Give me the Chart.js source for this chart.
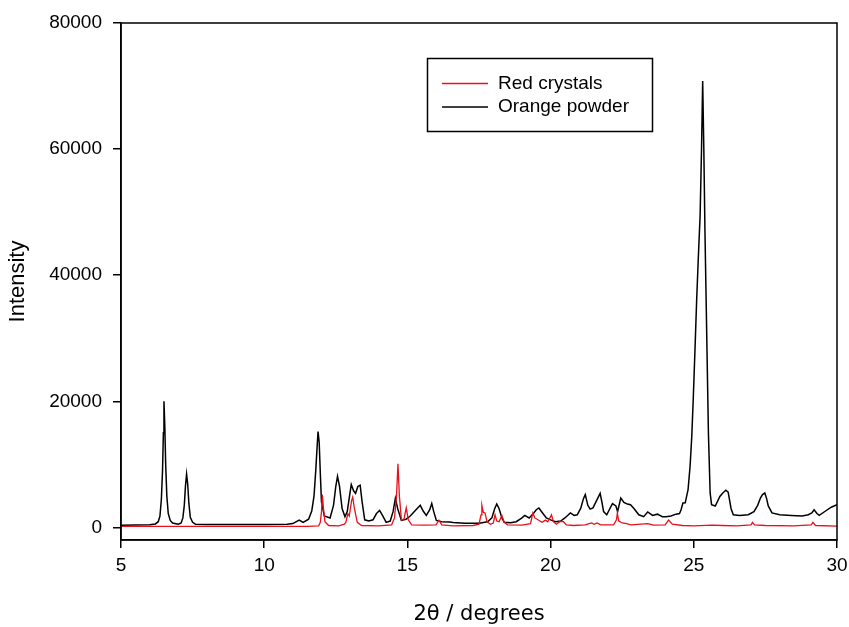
<!DOCTYPE html>
<html>
<head>
<meta charset="utf-8">
<title>XRD patterns</title>
<script src="https://cdn.jsdelivr.net/npm/chart.js@4.4.1/dist/chart.umd.min.js"></script>
<style>
    body { margin: 0; background: #fff; }
    #wrap { width: 849px; height: 627px; }
</style>
</head>
<body>
<div id="wrap"><canvas id="xrdChart" width="849" height="627"></canvas></div>
<script>
// Powder patterns (2theta in degrees, intensity in counts)
const redTheta = [5.0, 8.0, 11.5, 11.9, 11.96, 12.0, 12.03, 12.07, 12.12, 12.25, 12.6, 12.8, 12.85, 12.92, 12.97, 13.05, 13.09, 13.15, 13.25, 13.4,
    14.0, 14.45, 14.55, 14.62, 14.67, 14.72, 14.79, 14.88, 14.96, 15.03, 15.15, 15.6, 16.0, 16.1, 16.2, 16.6, 17.3, 17.5, 17.57, 17.6,
    17.65, 17.71, 17.78, 17.9, 18.0, 18.06, 18.12, 18.2, 18.3, 18.38, 18.5, 19.0, 19.3, 19.38, 19.45, 19.7, 19.82, 19.9, 20.0, 20.03,
    20.1, 20.2, 20.33, 20.45, 20.55, 20.8, 21.2, 21.43, 21.52, 21.62, 21.75, 22.2, 22.3, 22.33, 22.38, 22.5, 22.62, 22.8, 23.39, 23.6,
    24.0, 24.12, 24.25, 24.6, 25.0, 25.63, 26.0, 26.5, 27.0, 27.05, 27.12, 27.5, 28.5, 29.1, 29.16, 29.25, 30.0]
const redIntensity = [150, 150, 160, 250, 800, 2500, 5190, 3000, 900, 300, 250, 500, 800, 2200, 1800, 4200, 4800, 3000, 800, 300,
    250, 400, 1500, 5000, 10100, 5000, 1200, 1300, 3100, 1200, 400, 350, 400, 1150, 400, 250, 300, 500, 2000, 3500,
    2400, 2300, 900, 500, 700, 2000, 1000, 900, 1900, 800, 400, 350, 600, 2300, 1500, 800, 1150, 900, 1700, 2000,
    900, 500, 950, 900, 400, 300, 400, 700, 500, 700, 400, 400, 1200, 2280, 1000, 700, 650, 400, 600, 350,
    400, 1170, 500, 300, 250, 350, 300, 250, 400, 800, 400, 300, 250, 400, 800, 300, 200]

const orangeTheta = [5.0, 5.5, 6.0, 6.2, 6.3, 6.36, 6.41, 6.45, 6.48, 6.5, 6.53, 6.56, 6.6, 6.65, 6.72, 6.8, 7.0, 7.1, 7.16, 7.21,
    7.25, 7.29, 7.33, 7.37, 7.42, 7.5, 7.6, 8.0, 9.0, 10.0, 10.8, 11.0, 11.22, 11.36, 11.55, 11.66, 11.74, 11.8, 11.85, 11.88,
    11.92, 11.96, 12.0, 12.1, 12.3, 12.42, 12.5, 12.56, 12.63, 12.72, 12.82, 12.9, 12.98, 13.04, 13.12, 13.19, 13.27, 13.35, 13.42, 13.51,
    13.65, 13.8, 13.92, 14.03, 14.12, 14.26, 14.4, 14.5, 14.58, 14.66, 14.79, 14.95, 15.1, 15.3, 15.45, 15.55, 15.66, 15.78, 15.85, 15.92,
    16.01, 16.2, 16.47, 16.6, 17.0, 17.5, 17.8, 17.95, 18.05, 18.12, 18.2, 18.3, 18.38, 18.6, 18.8, 19.0, 19.1, 19.25, 19.4, 19.5,
    19.59, 19.7, 19.85, 20.0, 20.17, 20.35, 20.5, 20.69, 20.82, 20.93, 21.05, 21.15, 21.21, 21.3, 21.38, 21.48, 21.6, 21.73, 21.8, 21.85,
    21.96, 22.05, 22.16, 22.28, 22.34, 22.45, 22.56, 22.68, 22.79, 22.91, 23.08, 23.25, 23.39, 23.56, 23.73, 23.9, 24.03, 24.2, 24.38, 24.5,
    24.55, 24.62, 24.7, 24.8, 24.87, 24.93, 24.98, 25.04, 25.1, 25.16, 25.22, 25.27, 25.31, 25.35, 25.39, 25.45, 25.51, 25.57, 25.62, 25.75,
    25.91, 26.02, 26.12, 26.2, 26.3, 26.38, 26.6, 26.9, 27.1, 27.23, 27.33, 27.4, 27.48, 27.54, 27.6, 27.73, 28.0, 28.4, 28.78, 29.0,
    29.12, 29.2, 29.3, 29.38, 29.6, 29.8, 30.0]
const orangeIntensity = [350, 380, 420, 550, 900, 1800, 4500, 9000, 15000, 20000, 16000, 10000, 5000, 2200, 1100, 700, 500, 700, 1500, 3500,
    6500, 8450, 6800, 3800, 1600, 800, 500, 450, 450, 450, 480, 600, 1150, 800, 1300, 2600, 5000, 9000, 13000, 15200,
    13500, 8500, 4000, 1800, 1500, 3500, 6500, 8100, 6500, 3000, 1700, 2500, 5000, 6800, 5800, 5400, 6500, 6700, 4000, 1200,
    1000, 1200, 2200, 2700, 2000, 800, 1000, 2500, 4600, 3000, 1100, 1300, 1800, 2800, 3500, 2600, 1900, 2800, 3800, 2500,
    1100, 900, 850, 780, 650, 650, 900, 1500, 3000, 3700, 3000, 1500, 800, 750, 900, 1500, 1900, 1500, 2200, 2800,
    3080, 2400, 1500, 1200, 900, 1000, 1500, 2300, 1900, 2000, 3000, 4600, 5200, 3500, 2900, 3100, 4200, 5400, 3800, 2500,
    2000, 2800, 3760, 3400, 2500, 4660, 3970, 3700, 3600, 3000, 2000, 1700, 2440, 1900, 2100, 1700, 1700, 1800, 2100, 2200,
    2700, 3870, 3900, 6000, 9700, 14500, 20270, 28000, 36100, 43000, 49400, 60000, 70800, 60000, 46800, 30900, 15000, 5500, 3600, 3400,
    4900, 5500, 5900, 5600, 3000, 2000, 1900, 2000, 2500, 3500, 4700, 5200, 5450, 4600, 3400, 2300, 2000, 1900, 1800, 2000,
    2300, 2800, 2200, 1900, 2600, 3200, 3600]

const seriesNames = ["Red crystals", "Orange powder"]
const xTickValues = [5, 10, 15, 20, 25, 30]
const yTickValues = [0, 20000, 40000, 60000, 80000]

function toPoints(xs, ys) {
    return xs.map((x, i) => ({ x: x, y: ys[i] }))
}

// frame round the plot area plus the boxed legend inside it
const framePlugin = {
    id: "frame",
    afterDraw(chart) {
        const { ctx, chartArea } = chart
        ctx.save()
        ctx.strokeStyle = "#000"
        ctx.lineWidth = 1.5
        ctx.strokeRect(chartArea.left, chartArea.top, chartArea.right - chartArea.left, chartArea.bottom - chartArea.top)

        // legend
        const boxX = 427.5, boxY = 58.5, boxW = 225, boxH = 73
        ctx.fillStyle = "#fff"
        ctx.fillRect(boxX, boxY, boxW, boxH)
        ctx.strokeRect(boxX, boxY, boxW, boxH)
        ctx.font = "19px 'Liberation Sans', Arial, sans-serif"
        ctx.textBaseline = "middle"
        chart.data.datasets.forEach((ds, i) => {
            const y = 83.5 + i * 23.5
            ctx.strokeStyle = ds.borderColor
            ctx.lineWidth = ds.borderWidth
            ctx.beginPath()
            ctx.moveTo(442, y)
            ctx.lineTo(488, y)
            ctx.stroke()
            ctx.fillStyle = "#000"
            ctx.fillText(ds.label, 498, y)
        })
        ctx.restore()
    },
}

const tickFont = { family: "'Liberation Sans', Arial, sans-serif", size: 19 }

new Chart(document.getElementById("xrdChart").getContext("2d"), {
    type: "line",
    data: {
        datasets: [
            {
                label: seriesNames[0],
                data: toPoints(redTheta, redIntensity),
                borderColor: "#e8101a",
                borderWidth: 1.3,
                pointRadius: 0,
                tension: 0,
                fill: false,
            },
            {
                label: seriesNames[1],
                data: toPoints(orangeTheta, orangeIntensity),
                borderColor: "#000000",
                borderWidth: 1.5,
                pointRadius: 0,
                tension: 0,
                fill: false,
            },
        ],
    },
    options: {
        responsive: false,
        animation: false,
        layout: { padding: { left: 0, top: 23, right: 12, bottom: 0 } },
        plugins: {
            legend: { display: false },
            tooltip: { enabled: false },
        },
        scales: {
            x: {
                type: "linear",
                min: 5,
                max: 30,
                afterBuildTicks: (scale) => {
                    scale.ticks = xTickValues.map((v) => ({ value: v }))
                },
                afterFit: (scale) => {
                    scale.height = 87
                    scale.paddingLeft = 0
                    scale.paddingRight = 0
                },
                grid: { display: true, drawOnChartArea: false, drawTicks: true, tickLength: 8, color: "#000", lineWidth: 1.5 },
                border: { display: true, color: "#000", width: 1.5 },
                ticks: { color: "#000", font: tickFont, padding: 6, maxRotation: 0, callback: (v) => String(v) },
                title: {
                    display: true,
                    text: "2θ / degrees",
                    color: "#000",
                    font: { family: "'DejaVu Sans', Verdana, sans-serif", size: 21 },
                    padding: { top: 0, bottom: 0 },
                },
            },
            y: {
                type: "linear",
                min: -2000,
                max: 80000,
                afterBuildTicks: (scale) => {
                    scale.ticks = yTickValues.map((v) => ({ value: v }))
                },
                afterFit: (scale) => {
                    scale.width = 121
                    scale.paddingTop = 0
                    scale.paddingBottom = 0
                },
                grid: { display: true, drawOnChartArea: false, drawTicks: true, tickLength: 8, color: "#000", lineWidth: 1.5 },
                border: { display: true, color: "#000", width: 1.5 },
                ticks: { color: "#000", font: tickFont, padding: 11, callback: (v) => String(v) },
                title: {
                    display: true,
                    text: "Intensity",
                    color: "#000",
                    font: { family: "'Liberation Sans', Arial, sans-serif", size: 22 },
                    padding: { top: 5, bottom: 0 },
                },
            },
        },
    },
    plugins: [framePlugin],
})
</script>
</body>
</html>
